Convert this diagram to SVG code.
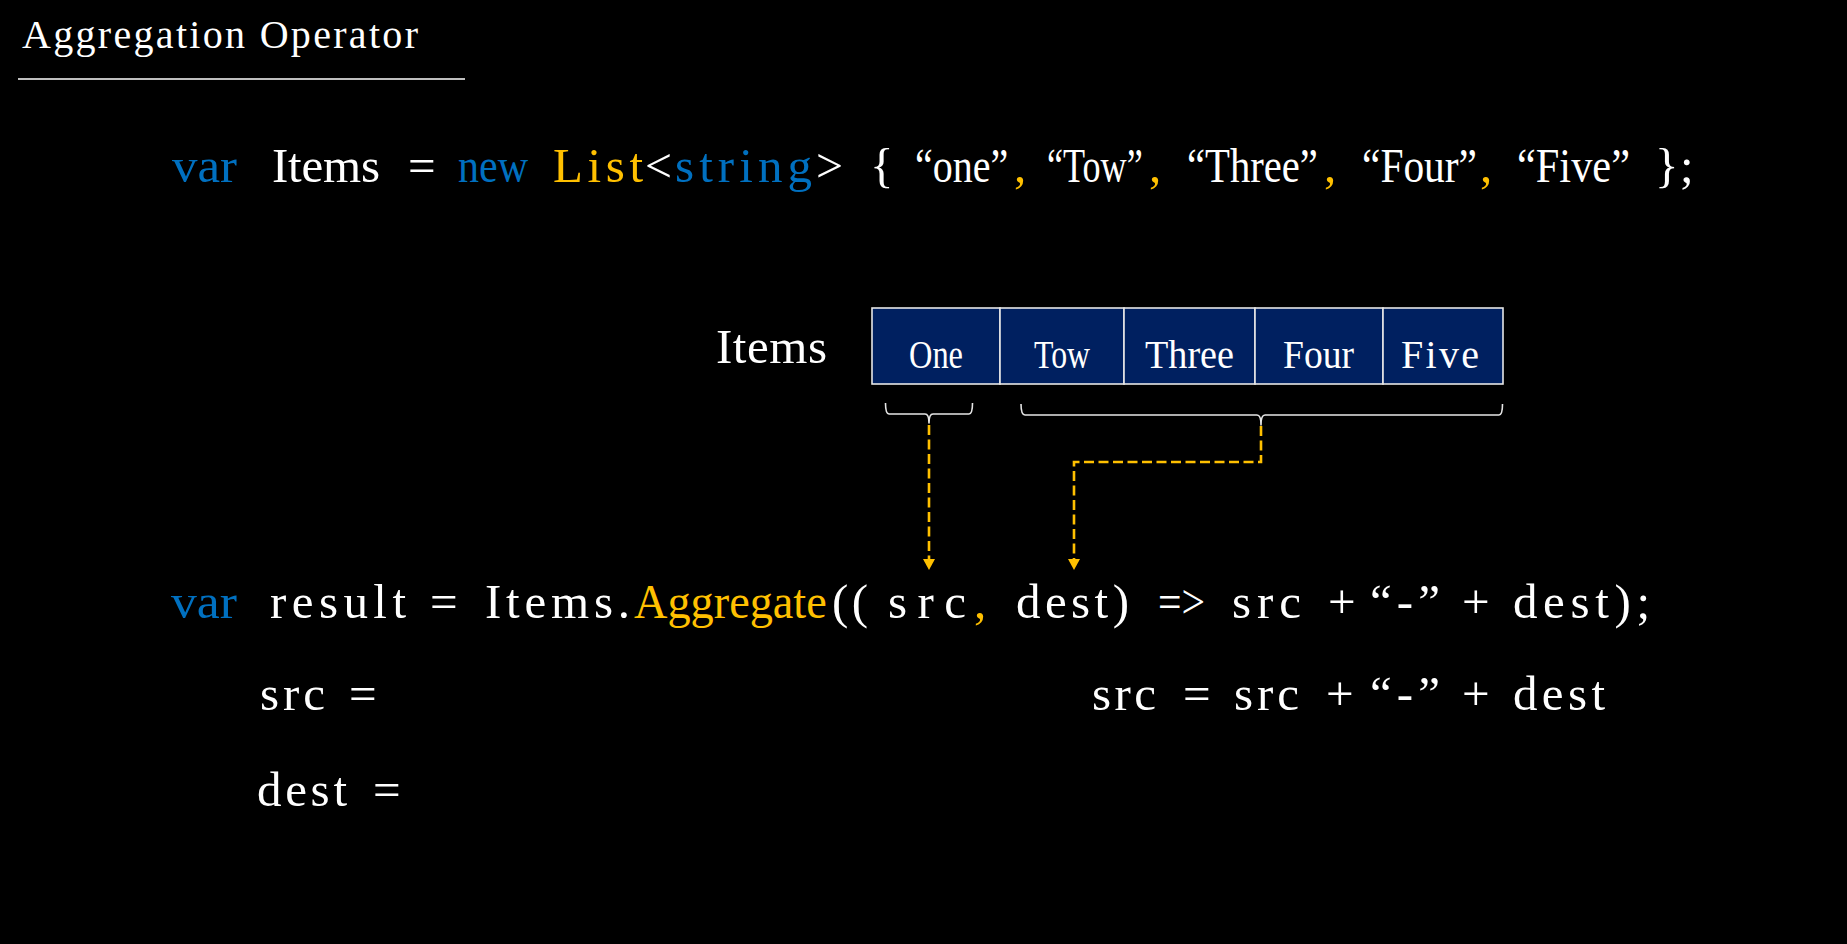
<svg xmlns="http://www.w3.org/2000/svg" width="1847" height="944" viewBox="0 0 1847 944">
  <style>
    .t { font-family: "Liberation Serif", "Times New Roman", serif; fill: #ffffff; }
    .code { font-size: 49px; }
    .title { font-size: 40px; }
    .cell-label { font-size: 40px; }
    .kw { fill: #0070c0; }
    .ty { fill: #ffc000; }
    .cell { fill: #002060; stroke: #e6e6e6; stroke-width: 1.6; }
    .brace { fill: none; stroke: #e6e6e6; stroke-width: 1.6; stroke-linejoin: round; }
    .flow { fill: none; stroke: #ffc000; stroke-width: 2.6; stroke-dasharray: 10 4.5; }
  </style>
  <defs>
    <marker id="arrowHead" markerUnits="userSpaceOnUse" markerWidth="14" markerHeight="14" refX="0" refY="6.5" orient="auto">
      <path d="M0,0.5 L11,6.5 L0,12.5 z" fill="#ffc000"/>
    </marker>
  </defs>

  <rect x="0" y="0" width="1847" height="944" fill="#000000"/>

  <!-- heading -->
  <g id="heading">
    <text class="t title" x="22" y="48" textLength="396" lengthAdjust="spacing">Aggregation Operator</text>
    <line x1="18" y1="79" x2="465" y2="79" stroke="#ffffff" stroke-width="1.5"/>
  </g>

  <!-- declaration line -->
  <g id="declaration" class="t code">
    <text class="kw" x="172" y="182" textLength="65" lengthAdjust="spacingAndGlyphs">var</text>
    <text x="272" y="182" textLength="108" lengthAdjust="spacing">Items</text>
    <text x="408" y="182">=</text>
    <text class="kw" x="458" y="182" textLength="70" lengthAdjust="spacingAndGlyphs">new</text>
    <text class="ty" x="553" y="182" textLength="90" lengthAdjust="spacing">List</text>
    <text x="645" y="182" textLength="27" lengthAdjust="spacingAndGlyphs">&lt;</text>
    <text class="kw" x="675" y="182" textLength="137" lengthAdjust="spacing">string</text>
    <text x="816" y="182" textLength="27" lengthAdjust="spacingAndGlyphs">&gt;</text>
    <text x="870" y="182">{</text>
    <!-- quoted literals are drawn horizontally condensed -->
    <text transform="translate(915,182) scale(0.816,1)">“one”</text>
    <text class="ty" x="1014" y="182">,</text>
    <text transform="translate(1047,182) scale(0.737,1)">“Tow”</text>
    <text class="ty" x="1149" y="182">,</text>
    <text transform="translate(1187,182) scale(0.83,1)">“Three”</text>
    <text class="ty" x="1324" y="182">,</text>
    <text transform="translate(1362,182) scale(0.845,1)">“Four”</text>
    <text class="ty" x="1480" y="182">,</text>
    <text transform="translate(1517,182) scale(0.865,1)">“Five”</text>
    <text x="1655" y="182">}</text>
    <text x="1680" y="182">;</text>
  </g>

  <!-- list label -->
  <g id="items-label">
    <text class="t code" x="716" y="363" textLength="111" lengthAdjust="spacing">Items</text>
  </g>

  <!-- list cells -->
  <g id="cell-one">
    <rect class="cell" x="872" y="308" width="128" height="76"/>
    <text class="t cell-label" x="909" y="368" textLength="54" lengthAdjust="spacingAndGlyphs">One</text>
  </g>
  <g id="cell-tow">
    <rect class="cell" x="1000" y="308" width="124" height="76"/>
    <text class="t cell-label" x="1034" y="368" textLength="56" lengthAdjust="spacingAndGlyphs">Tow</text>
  </g>
  <g id="cell-three">
    <rect class="cell" x="1124" y="308" width="131" height="76"/>
    <text class="t cell-label" x="1145" y="368" textLength="89" lengthAdjust="spacingAndGlyphs">Three</text>
  </g>
  <g id="cell-four">
    <rect class="cell" x="1255" y="308" width="128" height="76"/>
    <text class="t cell-label" x="1283" y="368" textLength="71" lengthAdjust="spacingAndGlyphs">Four</text>
  </g>
  <g id="cell-five">
    <rect class="cell" x="1383" y="308" width="120" height="76"/>
    <text class="t cell-label" x="1401" y="368" textLength="78" lengthAdjust="spacing">Five</text>
  </g>

  <!-- braces and flow arrows -->
  <g id="connectors">
    <path class="brace" d="M885.5,403 Q885.5,414 889,414 L925,414 Q929,414 929,423 Q929,414 933,414 L969,414 Q972.5,414 972.5,403"/>
    <path class="brace" d="M1021,404 Q1021,415 1025,415 L1257,415 Q1261,415 1261,425 Q1261,415 1265,415 L1499,415 Q1502.5,415 1502.5,404"/>
    <path class="flow" d="M929,425 L929,559" marker-end="url(#arrowHead)"/>
    <path class="flow" d="M1261,426 L1261,462 L1074,462 L1074,559" marker-end="url(#arrowHead)"/>
  </g>

  <!-- aggregate call -->
  <g id="aggregate-call" class="t code">
    <text class="kw" x="171" y="618" textLength="66" lengthAdjust="spacingAndGlyphs">var</text>
    <text x="270" y="618" textLength="136" lengthAdjust="spacing">result</text>
    <text x="430" y="618">=</text>
    <text x="485" y="618" textLength="145" lengthAdjust="spacing">Items.</text>
    <text class="ty" transform="translate(634,618) scale(0.945,1)">Aggregate</text>
    <text x="832" y="618" textLength="36" lengthAdjust="spacing">((</text>
    <text x="888" y="618" textLength="78" lengthAdjust="spacing">src</text>
    <text class="ty" x="974" y="618">,</text>
    <text x="1016" y="618" textLength="113" lengthAdjust="spacing">dest)</text>
    <text x="1158" y="618" textLength="47" lengthAdjust="spacingAndGlyphs">=&gt;</text>
    <text x="1232" y="618" textLength="69" lengthAdjust="spacing">src</text>
    <text x="1328" y="618">+</text>
    <text x="1370" y="618" textLength="70" lengthAdjust="spacing">“-”</text>
    <text x="1462" y="618">+</text>
    <text x="1513" y="618" textLength="137" lengthAdjust="spacing">dest);</text>
  </g>

  <!-- running values -->
  <g id="src-value" class="t code">
    <text x="260" y="710" textLength="65" lengthAdjust="spacing">src</text>
    <text x="349" y="710">=</text>
  </g>
  <g id="dest-value" class="t code">
    <text x="257" y="806" textLength="90" lengthAdjust="spacing">dest</text>
    <text x="373" y="806">=</text>
  </g>
  <g id="src-update" class="t code">
    <text x="1092" y="710" textLength="64" lengthAdjust="spacing">src</text>
    <text x="1183" y="710">=</text>
    <text x="1234" y="710" textLength="65" lengthAdjust="spacing">src</text>
    <text x="1326" y="710">+</text>
    <text x="1370" y="710" textLength="70" lengthAdjust="spacing">“-”</text>
    <text x="1462" y="710">+</text>
    <text x="1513" y="710" textLength="92" lengthAdjust="spacing">dest</text>
  </g>
</svg>
